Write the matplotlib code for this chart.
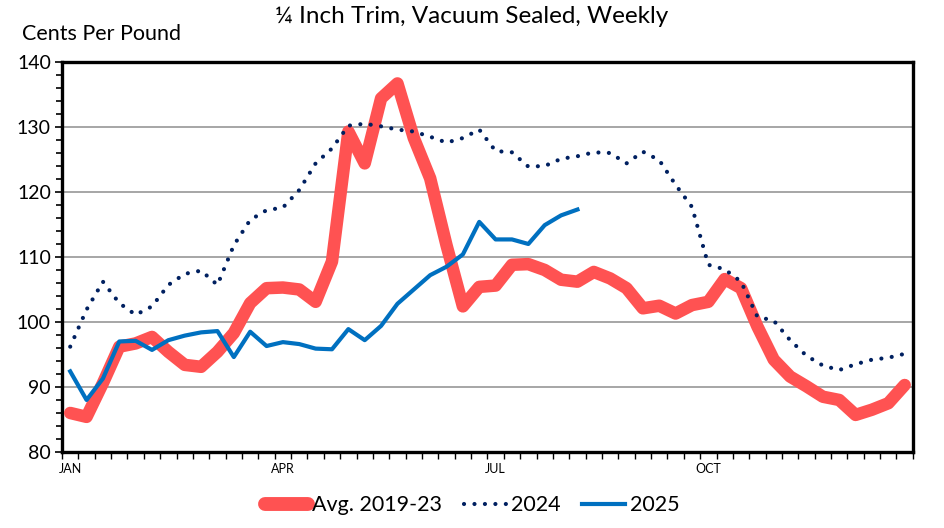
import matplotlib
matplotlib.use("agg")
import matplotlib.pyplot as plt
from matplotlib.lines import Line2D

# weekly values, cents per pound
avg_2019_23 = [86.0, 85.4, 90.6, 96.2, 96.7, 97.7, 95.4, 93.4, 93.1, 95.4,
               98.3, 102.9, 105.2, 105.3, 105.0, 103.1, 109.3, 129.3, 124.4, 134.4,
               136.7, 128.3, 122.1, 111.8, 102.4, 105.4, 105.6, 108.8, 108.9, 108.0,
               106.5, 106.2, 107.7, 106.7, 105.2, 102.1, 102.5, 101.3, 102.6, 103.1,
               106.6, 105.2, 99.3, 94.2, 91.6, 90.1, 88.5, 88.0, 85.7, 86.5,
               87.5, 90.3]
y2024 = [96.2, 101.9, 106.2, 102.9, 101.1, 102.4, 105.7, 107.4, 107.9, 105.7,
         111.8, 115.7, 117.2, 117.6, 120.3, 124.4, 126.7, 130.2, 130.5, 130.1,
         129.6, 129.3, 128.5, 127.6, 128.3, 129.6, 126.3, 126.1, 123.9, 124.0,
         125.1, 125.5, 126.1, 126.0, 124.4, 126.2, 124.9, 121.1, 117.7, 108.8,
         108.1, 106.2, 100.8, 100.2, 97.2, 94.8, 93.3, 92.6, 93.5, 94.2,
         94.5, 95.1]
y2025 = [92.4, 88.0, 91.3, 97.0, 97.1, 95.7, 97.2, 97.9, 98.4, 98.6,
         94.6, 98.5, 96.3, 96.9, 96.6, 95.9, 95.8, 98.9, 97.2, 99.4,
         102.8, 105.0, 107.2, 108.5, 110.4, 115.4, 112.7, 112.7, 112.0, 114.9,
         116.4, 117.3]
month_labels = ["JAN", "APR", "JUL", "OCT"]
month_weeks = [0, 13, 26, 39]

plt.rcParams["font.family"] = ["Lato", "DejaVu Sans"]

fig = plt.figure(figsize=(9.44, 5.28), dpi=100)
ax = fig.add_axes([0.0657, 0.144, 0.9013, 0.7386])

red = "#FF5252"
navy = "#002060"
blue = "#0070C0"

ax.plot(range(len(avg_2019_23)), avg_2019_23, color=red, lw=9,
        solid_joinstyle="round", solid_capstyle="round", zorder=3)
ax.plot(range(len(y2024)), y2024, color=navy, lw=3.0, linestyle=(0, (0.01, 2.5)),
        dash_capstyle="round", zorder=4)
ax.plot(range(len(y2025)), y2025, color=blue, lw=3.0,
        solid_joinstyle="round", zorder=5)

ax.set_xlim(-0.5, 51.5)
ax.set_ylim(80, 140)

# y axis
ax.set_yticks(range(80, 141, 10))
ax.set_yticks(range(80, 141, 2), minor=True)
ax.tick_params(axis="y", which="major", direction="out", length=5, width=1.2,
               labelsize=14, pad=3)
ax.tick_params(axis="y", which="minor", direction="out", length=4, width=1.2)
ax.yaxis.grid(True, which="major", color="#A6A6A6", lw=1.4)
ax.set_axisbelow(True)

# x axis: ticks between weeks, month labels on the week
ax.set_xticks([i - 0.5 for i in range(53)])
ax.set_xticklabels([])
ax.set_xticks(month_weeks, minor=True)
ax.set_xticklabels(month_labels, minor=True)
ax.tick_params(axis="x", which="major", direction="out", length=5, width=1.0)
ax.tick_params(axis="x", which="minor", length=0, labelsize=9, pad=8)

for s in ax.spines.values():
    s.set_linewidth(2.4)
    s.set_color("black")

fig.text(0.5, 0.968, "\u00bc Inch Trim, Vacuum Sealed, Weekly", ha="center", va="center",
         fontsize=17.5)
fig.text(0.023, 0.935, "Cents Per Pound", ha="left", va="center", fontsize=15.5)

handles = [Line2D([], [], color=red, lw=10, solid_capstyle="round"),
           Line2D([], [], color=navy, lw=3.0, linestyle=(0, (0.01, 2.5)), dash_capstyle="round"),
           Line2D([], [], color=blue, lw=3.0)]
fig.legend(handles, ["Avg. 2019-23", "2024", "2025"], loc="center",
           bbox_to_anchor=(0.5, 0.043), ncol=3, frameon=False, fontsize=15.5,
           handlelength=2.0, handletextpad=0.2, columnspacing=1.0)

fig.savefig("out.png", dpi=100)
